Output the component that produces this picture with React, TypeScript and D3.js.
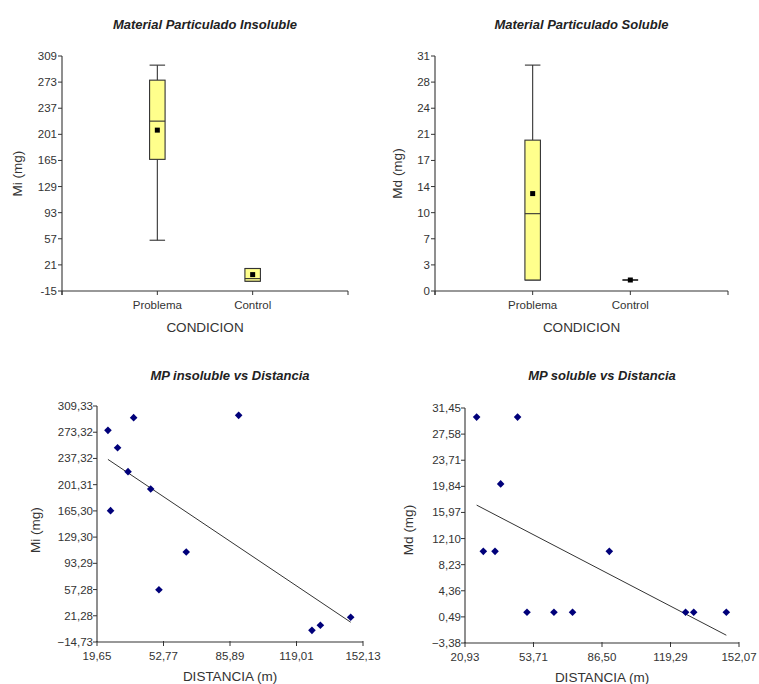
import React from 'react';
import * as d3 from 'd3';

// ---------- Data ----------
const conditions = ['Problema', 'Control'];

// Box-plot statistics: Material Particulado Insoluble (mg)
const insolMin = [55.0, -1.5];
const insolQ1 = [166.5, -1.5];
const insolMedian = [219.2, 2.1];
const insolQ3 = [275.7, 16.0];
const insolMax = [296.4, 16.0];
const insolMean = [206.8, 7.6];
const insolTicks = [-15, 21, 57, 93, 129, 165, 201, 237, 273, 309];

// Box-plot statistics: Material Particulado Soluble (mg)
const solMin = [1.45, 1.45];
const solQ1 = [1.45, 1.45];
const solMedian = [10.2, 1.45];
const solQ3 = [19.9, 1.45];
const solMax = [29.8, 1.45];
const solMean = [12.85, 1.45];
const solTickValues = [0, 3.444, 6.889, 10.333, 13.778, 17.222, 20.667, 24.111, 27.556, 31];
const solTickLabels = ['0', '3', '7', '10', '14', '17', '21', '24', '28', '31'];

// Scatter: MP insoluble vs Distancia
const insolDist = [25.1, 37.9, 29.9, 35.1, 46.4, 26.4, 64.1, 50.5, 90.2, 126.7, 130.9, 146.0];
const insolMass = [275.9, 293.3, 252.1, 219.2, 195.4, 165.6, 108.8, 57.1, 296.5, 1.3, 8.2, 19.2];
const insolXTicks = [19.65, 52.77, 85.89, 119.01, 152.13];
const insolYTicks = [-14.73, 21.28, 57.28, 93.29, 129.30, 165.30, 201.31, 237.32, 273.32, 309.33];

// Scatter: MP soluble vs Distancia
const solDist = [26.5, 46.1, 38.0, 29.7, 35.3, 90.0, 50.6, 63.5, 72.4, 126.5, 130.4, 146.0];
const solMass = [30.1, 30.1, 20.2, 10.2, 10.2, 10.2, 1.17, 1.17, 1.17, 1.17, 1.17, 1.17];
const solXTicks = [20.93, 53.71, 86.50, 119.29, 152.07];
const solYTicks = [-3.38, 0.49, 4.36, 8.23, 12.10, 15.97, 19.84, 23.71, 27.58, 31.45];

// ---------- Style ----------
const FONT = '"Liberation Sans", Arial, Helvetica, sans-serif';
const AXIS = '#333';
const TEXT = '#333';
const BOXFILL = '#FFFF8C';
const MARK = '#00007A';

const esLocale = d3.formatLocale({ decimal: ',', thousands: '.', grouping: [3], currency: ['', ''] });
const fmt2 = esLocale.format('.2f');

type BoxProps = {
  title: string;
  yLabel: string;
  x0: number; x1: number; y0: number; y1: number;
  domain: [number, number];
  tickValues: number[];
  tickLabels: string[];
  mins: number[]; q1s: number[]; meds: number[]; q3s: number[]; maxs: number[]; means: number[];
  yLabelX: number;
};

function BoxPanel(p: BoxProps) {
  const y = d3.scaleLinear().domain(p.domain).range([p.y1, p.y0]);
  const x = d3.scalePoint<string>().domain(['', ...conditions, ' ']).range([p.x0, p.x1]);
  const bw = 15.5;
  const cx = (p.x0 + p.x1) / 2;
  return (
    <g>
      <text x={cx} y={29} textAnchor="middle" fontFamily={FONT} fontSize={13} fontWeight="bold" fontStyle="italic" fill="#222">{p.title}</text>
      {conditions.map((c, i) => {
        const xc = x(c)!;
        return (
          <g key={c} stroke={AXIS} strokeWidth={1.1}>
            <line x1={xc} x2={xc} y1={y(p.maxs[i])} y2={y(p.q3s[i])} />
            <line x1={xc} x2={xc} y1={y(p.q1s[i])} y2={y(p.mins[i])} />
            <line x1={xc - bw / 2} x2={xc + bw / 2} y1={y(p.maxs[i])} y2={y(p.maxs[i])} />
            <line x1={xc - bw / 2} x2={xc + bw / 2} y1={y(p.mins[i])} y2={y(p.mins[i])} />
            <rect x={xc - bw / 2} y={y(p.q3s[i])} width={bw} height={Math.max(0, y(p.q1s[i]) - y(p.q3s[i]))} fill={BOXFILL} />
            <line x1={xc - bw / 2} x2={xc + bw / 2} y1={y(p.meds[i])} y2={y(p.meds[i])} />
            <rect x={xc - 2.5} y={y(p.means[i]) - 2.5} width={5} height={5} fill="#000" stroke="none" />
          </g>
        );
      })}
      <line x1={p.x0} x2={p.x0} y1={p.y0} y2={p.y1 + 4} stroke={AXIS} strokeWidth={1.1} />
      {p.tickValues.map((v, i) => (
        <g key={i}>
          <line x1={p.x0 - 4} x2={p.x0} y1={y(v)} y2={y(v)} stroke={AXIS} />
          <text x={p.x0 - 5} y={y(v)} dy="0.35em" textAnchor="end" fontFamily={FONT} fontSize={11.5} fill={TEXT}>{p.tickLabels[i]}</text>
        </g>
      ))}
      <line x1={p.x0} x2={p.x1} y1={p.y1} y2={p.y1} stroke={AXIS} strokeWidth={1.1} />
      {[p.x0, ...conditions.map(c => x(c)!), p.x1].map((xv, i) => (
        <line key={i} x1={xv} x2={xv} y1={p.y1} y2={p.y1 + 4} stroke={AXIS} />
      ))}
      {conditions.map(c => (
        <text key={c} x={x(c)!} y={p.y1 + 18} textAnchor="middle" fontFamily={FONT} fontSize={11.5} fill={TEXT}>{c}</text>
      ))}
      <text x={cx} y={p.y1 + 41} textAnchor="middle" fontFamily={FONT} fontSize={13.5} fill={TEXT}>CONDICION</text>
      <text transform={`translate(${p.yLabelX},${(p.y0 + p.y1) / 2}) rotate(-90)`} dy="0.35em" textAnchor="middle" fontFamily={FONT} fontSize={13.5} fill={TEXT}>{p.yLabel}</text>
    </g>
  );
}

type ScatterProps = {
  title: string;
  yLabel: string;
  x0: number; x1: number; y0: number; y1: number;
  xTicks: number[]; yTicks: number[];
  xs: number[]; ys: number[];
  yLabelX: number;
  yLabelY: number;
};

function ScatterPanel(p: ScatterProps) {
  const x = d3.scaleLinear().domain([p.xTicks[0], p.xTicks[p.xTicks.length - 1]]).range([p.x0, p.x1]);
  const y = d3.scaleLinear().domain([p.yTicks[0], p.yTicks[p.yTicks.length - 1]]).range([p.y1, p.y0]);
  const mx = d3.mean(p.xs)!;
  const my = d3.mean(p.ys)!;
  let sxy = 0, sxx = 0;
  p.xs.forEach((xv, i) => { sxy += (xv - mx) * (p.ys[i] - my); sxx += (xv - mx) * (xv - mx); });
  const slope = sxy / sxx;
  const icpt = my - slope * mx;
  const [xmin, xmax] = d3.extent(p.xs) as [number, number];
  const line = d3.line<number>().x(d => x(d)).y(d => y(icpt + slope * d));
  const r = 3.8;
  const diamond = `M0,${-r}L${r},0L0,${r}L${-r},0Z`;
  const cx = (p.x0 + p.x1) / 2;
  return (
    <g>
      <text x={cx} y={380} textAnchor="middle" fontFamily={FONT} fontSize={13} fontWeight="bold" fontStyle="italic" fill="#222">{p.title}</text>
      <path d={line([xmin, xmax]) || ''} fill="none" stroke="#333" strokeWidth={1} />
      {p.xs.map((xv, i) => (
        <path key={i} d={diamond} transform={`translate(${x(xv)},${y(p.ys[i])})`} fill={MARK} />
      ))}
      <line x1={p.x0} x2={p.x0} y1={p.y0} y2={p.y1} stroke={AXIS} strokeWidth={1.1} />
      {p.yTicks.map((v, i) => (
        <g key={i}>
          <line x1={p.x0 - 4} x2={p.x0} y1={y(v)} y2={y(v)} stroke={AXIS} />
          <text x={p.x0 - 4} y={y(v)} dy="0.35em" textAnchor="end" fontFamily={FONT} fontSize={11.5} fill={TEXT}>{fmt2(v)}</text>
        </g>
      ))}
      <line x1={p.x0} x2={p.x1} y1={p.y1} y2={p.y1} stroke={AXIS} strokeWidth={1.1} />
      {p.xTicks.map((v, i) => (
        <g key={i}>
          <line x1={x(v)} x2={x(v)} y1={p.y1 - 1} y2={p.y1 + 4} stroke={AXIS} />
          <text x={x(v)} y={p.y1 + 17.5} textAnchor="middle" fontFamily={FONT} fontSize={11.5} fill={TEXT}>{fmt2(v)}</text>
        </g>
      ))}
      <text x={cx} y={p.y1 + 39} textAnchor="middle" fontFamily={FONT} fontSize={13.5} fill={TEXT}>DISTANCIA (m)</text>
      <text transform={`translate(${p.yLabelX},${p.yLabelY}) rotate(-90)`} dy="0.35em" textAnchor="middle" fontFamily={FONT} fontSize={13.5} fill={TEXT}>{p.yLabel}</text>
    </g>
  );
}

export default function App() {
  return (
    <svg width={759} height={684} style={{ position: 'absolute', left: 0, top: 0, background: '#fff' }}>
      <rect width={759} height={684} fill="#fff" />
      <BoxPanel
        title="Material Particulado Insoluble" yLabel="Mi (mg)"
        x0={62} x1={348} y0={56} y1={291}
        domain={[-15, 309]}
        tickValues={insolTicks} tickLabels={insolTicks.map(String)}
        mins={insolMin} q1s={insolQ1} meds={insolMedian} q3s={insolQ3} maxs={insolMax} means={insolMean}
        yLabelX={17}
      />
      <BoxPanel
        title="Material Particulado Soluble" yLabel="Md (mg)"
        x0={435} x1={728} y0={56} y1={291}
        domain={[0, 31]}
        tickValues={solTickValues} tickLabels={solTickLabels}
        mins={solMin} q1s={solQ1} meds={solMedian} q3s={solQ3} maxs={solMax} means={solMean}
        yLabelX={397}
      />
      <ScatterPanel
        title="MP insoluble vs Distancia" yLabel="Mi (mg)"
        x0={97} x1={363} y0={406} y1={642}
        xTicks={insolXTicks} yTicks={insolYTicks}
        xs={insolDist} ys={insolMass}
        yLabelX={35} yLabelY={530}
      />
      <ScatterPanel
        title="MP soluble vs Distancia" yLabel="Md (mg)"
        x0={465} x1={739} y0={408} y1={643}
        xTicks={solXTicks} yTicks={solYTicks}
        xs={solDist} ys={solMass}
        yLabelX={408} yLabelY={530}
      />
    </svg>
  );
}
